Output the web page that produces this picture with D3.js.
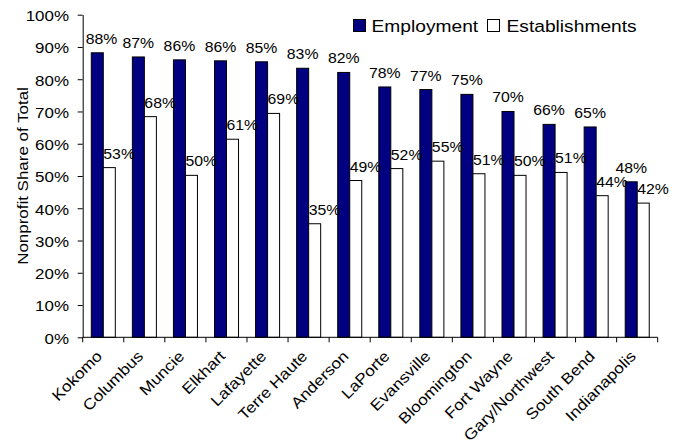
<!DOCTYPE html>
<html>
<head>
<meta charset="utf-8">
<script src="https://cdn.jsdelivr.net/npm/d3@7"></script>
<style>
  html, body { margin: 0; padding: 0; background: #fff; }
  svg { display: block; font-family: "Liberation Sans", Arial, sans-serif; }
</style>
</head>
<body>
<script>
const cities = ["Kokomo","Columbus","Muncie","Elkhart","Lafayette","Terre Haute","Anderson","LaPorte","Evansville","Bloomington","Fort Wayne","Gary/Northwest","South Bend","Indianapolis"];
const employment = [88.2, 86.9, 86.0, 85.7, 85.4, 83.4, 82.1, 77.6, 76.8, 75.3, 70.0, 66.0, 65.2, 48.2];
const establishments = [52.6, 68.4, 50.2, 61.4, 69.4, 35.2, 48.6, 52.3, 54.6, 50.7, 50.2, 51.1, 43.9, 41.6];
const seriesNames = ["Employment", "Establishments"];
const yTicks = [0, 10, 20, 30, 40, 50, 60, 70, 80, 90, 100];
const yTitle = "Nonprofit Share of Total";

const W = 678, H = 445;
const SX = 1.13; // horizontal stretch of text
const colors = {Employment: "#000080", Establishments: "#ffffff"};

const svg = d3.select("body").append("svg").attr("width", W).attr("height", H);

const pLeft = 82.7, pRight = 657.7, pTop = 14.7, pBottom = 337.3;
const x = d3.scaleBand().domain(cities).range([pLeft, pRight]).paddingInner(0).paddingOuter(0);
const bw = x.bandwidth();
const xs = d3.scaleBand().domain(seriesNames).range([bw * 0.209, bw * 0.794]).padding(0);
const y = d3.scaleLinear().domain([0, 100]).range([pBottom, pTop]);

const data = cities.map((c, i) => ({city: c, Employment: employment[i], Establishments: establishments[i]}));

// Bars
const g = svg.append("g");
const groups = g.selectAll("g.grp").data(data).join("g").attr("class", "grp")
  .attr("transform", d => `translate(${x(d.city)},0)`);
groups.selectAll("rect").data(d => seriesNames.map(s => ({s, v: d[s]}))).join("rect")
  .attr("x", d => xs(d.s))
  .attr("y", d => y(d.v))
  .attr("width", xs.bandwidth())
  .attr("height", d => y(0) - y(d.v))
  .attr("fill", d => colors[d.s])
  .attr("stroke", "#000")
  .attr("stroke-width", 1);

// Data labels
const fmt = v => Math.round(v) + "%";
function stretchedText(sel, px, py, str, size, anchor) {
  return sel.append("text")
    .attr("transform", `translate(${px},${py}) scale(${SX},1)`)
    .attr("text-anchor", anchor)
    .attr("font-size", size)
    .attr("fill", "#000")
    .text(str);
}
data.forEach((d, i) => {
  const ex = x(d.city) + xs("Employment") + xs.bandwidth() / 2;
  let exAdj = ex;
  const halfW = 2.0 * 14 * SX / 2;
  if (exAdj - halfW < pLeft + 3) exAdj = pLeft + 3 + halfW;
  stretchedText(svg, exAdj, y(d.Employment) - 9, fmt(d.Employment), 14, "middle");
  const sx = x(d.city) + xs("Establishments");
  stretchedText(svg, sx, y(d.Establishments) - 9, fmt(d.Establishments), 14, "start");
});

// Y axis
const yAxis = svg.append("g").attr("transform", `translate(${pLeft},0)`)
  .call(d3.axisLeft(y).tickValues(yTicks).tickFormat(d => d + "%").tickSize(5).tickPadding(8.7).tickSizeOuter(0));
yAxis.select(".domain").attr("stroke", "#000");
yAxis.selectAll(".tick line").attr("stroke", "#000");
yAxis.selectAll(".tick text").each(function() {
  const t = d3.select(this);
  const tx = +t.attr("x");
  t.attr("x", 0).attr("transform", `translate(${tx},1) scale(${SX},1)`)
   .attr("font-size", 15).attr("font-family", "Liberation Sans, Arial, sans-serif").attr("fill", "#000");
});

// X axis line and ticks at category boundaries
const xAxisG = svg.append("g");
xAxisG.append("line").attr("x1", pLeft).attr("x2", pRight).attr("y1", pBottom).attr("y2", pBottom).attr("stroke", "#000");
const bounds = cities.map(c => x(c)).concat([pRight]);
xAxisG.selectAll("line.tk").data(bounds).join("line").attr("class", "tk")
  .attr("x1", d => d).attr("x2", d => d).attr("y1", pBottom).attr("y2", pBottom + 5).attr("stroke", "#000");

// X labels rotated
xAxisG.selectAll("text").data(cities).join("text")
  .attr("transform", c => `translate(${x(c) + bw / 2 - 8},${pBottom + 12}) rotate(-45) scale(${SX},1)`)
  .attr("text-anchor", "end")
  .attr("dy", "0.72em")
  .attr("font-size", 15.3)
  .attr("fill", "#000")
  .text(c => c);

// Y title
svg.append("text")
  .attr("transform", `translate(28,${(pTop + pBottom) / 2}) rotate(-90) scale(${SX},1)`)
  .attr("text-anchor", "middle")
  .attr("font-size", 15)
  .attr("fill", "#000")
  .text(yTitle);

// Legend
const legendPos = [{name: "Employment", bx: 353.5, tx: 371.5}, {name: "Establishments", bx: 487.5, tx: 506.5}];
legendPos.forEach(l => {
  svg.append("rect").attr("x", l.bx).attr("y", 19.5).attr("width", 12).attr("height", 12)
    .attr("fill", colors[l.name]).attr("stroke", "#000").attr("stroke-width", 1);
  stretchedText(svg, l.tx, 31.7, l.name, 17, "start");
});
</script>
</body>
</html>
